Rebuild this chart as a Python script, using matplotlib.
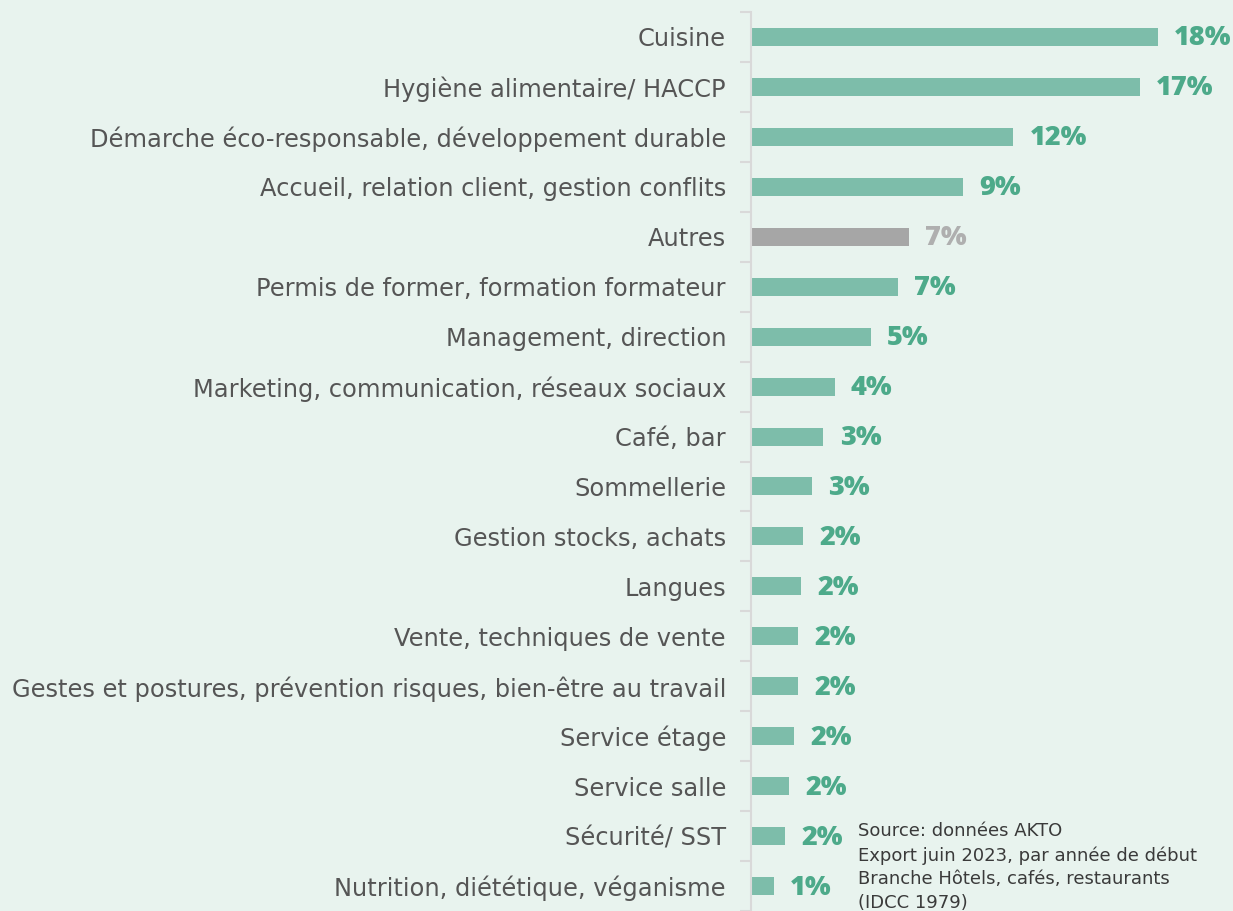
import numpy as np
import matplotlib.pyplot as plt

# === DATA ===
categories = [
    "Cuisine",
    "Hygiène alimentaire/ HACCP",
    "Démarche éco-responsable, développement durable",
    "Accueil, relation client, gestion conflits",
    "Autres",
    "Permis de former, formation formateur",
    "Management, direction",
    "Marketing, communication, réseaux sociaux",
    "Café, bar",
    "Sommellerie",
    "Gestion stocks, achats",
    "Langues",
    "Vente, techniques de vente",
    "Gestes et postures, prévention risques, bien-être au travail",
    "Service étage",
    "Service salle",
    "Sécurité/ SST",
    "Nutrition, diététique, véganisme",
]
values = [18.0, 17.2, 11.6, 9.4, 7.0, 6.5, 5.3, 3.7, 3.2, 2.7,
          2.3, 2.2, 2.1, 2.1, 1.9, 1.7, 1.5, 1.0]
value_labels = ["18%", "17%", "12%", "9%", "7%", "7%", "5%", "4%", "3%", "3%",
                "2%", "2%", "2%", "2%", "2%", "2%", "2%", "1%"]
source_text = ("Source: données AKTO\n"
               "Export juin 2023, par année de début\n"
               "Branche Hôtels, cafés, restaurants\n"
               "(IDCC 1979)")

# === STYLE ===
bg = "#E8F3EE"
bar_green = "#7DBDAA"
label_green = "#4DAA8A"
bar_grey = "#A6A6A6"
label_grey = "#AFAFAF"
text_grey = "#555555"
plt.rcParams['font.family'] = ['DejaVu Sans']

fig = plt.figure(figsize=(12.33, 9.11), dpi=100, facecolor=bg)
ax = fig.add_axes([751 / 1233, 0, 1 - 751 / 1233, 1 - 12 / 911])
ax.set_facecolor(bg)

y = np.arange(len(categories))
colors = [bar_grey if c == "Autres" else bar_green for c in categories]
ax.barh(y, values, height=0.36, color=colors)

for yi, v, lab, c in zip(y, values, value_labels, categories):
    ax.text(v + 0.72, yi + 0.03, lab, va="center", ha="left", fontsize=19.5,
            fontweight=800, family=["Open Sans", "DejaVu Sans"],
            color=label_grey if c == "Autres" else label_green)

n = len(categories)
ax.set_ylim((911 - 37) / 50.35, -0.5)
ax.set_xlim(0, (1233 - 751) / 22.6)

ax.set_yticks(y)
ax.set_yticklabels(categories, fontsize=17.4, color=text_grey)
ax.tick_params(axis="y", which="major", length=0, pad=18)
ax.set_yticks(np.arange(-0.5, n, 1), minor=True)
ax.tick_params(axis="y", which="minor", length=8, width=1.5, color="#D9D9D9")
ax.set_xticks([])

for s in ["top", "right", "bottom"]:
    ax.spines[s].set_visible(False)
ax.spines["left"].set_color("#D9D9D9")
ax.spines["left"].set_linewidth(1.5)

fig.text(858 / 1233, 1 - 822 / 911, source_text, ha="left", va="top",
         fontsize=13, color="#3A3A3A", linespacing=1.42)

fig.savefig("out.png", dpi=100, facecolor=bg)
